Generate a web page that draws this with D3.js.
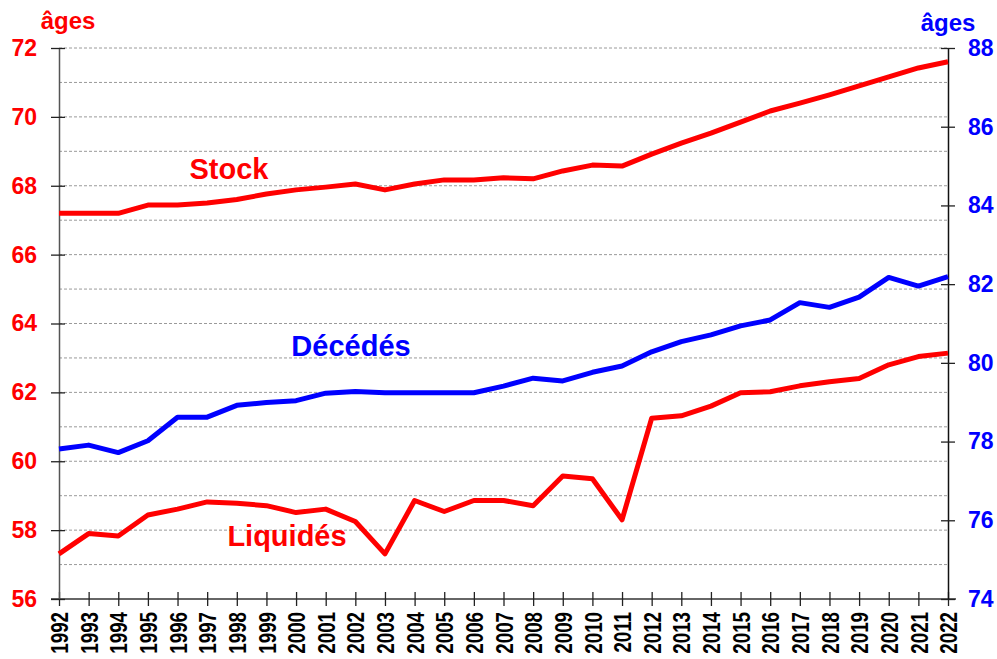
<!DOCTYPE html>
<html>
<head>
<meta charset="utf-8">
<script src="https://cdn.jsdelivr.net/npm/d3@7"></script>
<style>
  body { margin: 0; background: #fff; }
  text { font-family: "Liberation Sans", Arial, sans-serif; font-weight: bold; }
</style>
</head>
<body>
<div id="chart"></div>
<script>
var years = d3.range(1992, 2023);

// ages moyens, axe de gauche
var stock = [67.2, 67.2, 67.2, 67.44, 67.44, 67.5, 67.6, 67.76, 67.88, 67.96, 68.05,
  67.88, 68.05, 68.17, 68.17, 68.23, 68.2, 68.43, 68.6, 68.57, 68.92,
  69.24, 69.53, 69.85, 70.17, 70.4, 70.64, 70.9, 71.16, 71.42, 71.6];
var liquides = [57.31, 57.9, 57.83, 58.44, 58.61, 58.82, 58.78, 58.71, 58.51, 58.61, 58.25,
  57.31, 58.86, 58.54, 58.86, 58.86, 58.71, 59.57, 59.49, 58.3, 61.25,
  61.32, 61.6, 61.99, 62.02, 62.19, 62.31, 62.4, 62.8, 63.04, 63.14];
// axe de droite
var decedes = [77.81, 77.91, 77.72, 78.02, 78.62, 78.62, 78.92, 78.99, 79.04, 79.23, 79.27,
  79.24, 79.24, 79.24, 79.24, 79.41, 79.61, 79.54, 79.76, 79.92, 80.28,
  80.54, 80.71, 80.94, 81.09, 81.53, 81.41, 81.67, 82.17, 81.95, 82.19];

var leftTicks = [56, 58, 60, 62, 64, 66, 68, 70, 72];
var rightTicks = [74, 76, 78, 80, 82, 84, 86, 88];
var gridValues = d3.range(56, 73);

var margin = { top: 48, right: 49, bottom: 60, left: 59 };
var width = 997 - margin.left - margin.right;
var height = 659 - margin.top - margin.bottom;

var svg = d3.select("#chart").append("svg")
    .attr("width", 997)
    .attr("height", 659);

var g = svg.append("g")
    .attr("transform", "translate(" + margin.left + "," + margin.top + ")");

var x = d3.scaleLinear().domain([1992, 2022]).range([0, width]);
var yL = d3.scaleLinear().domain([56, 72]).range([height, 0]);
var yR = d3.scaleLinear().domain([74, 88]).range([height, 0]);

// grille
g.selectAll(".grid").data(gridValues.slice(1)).enter().append("line")
    .attr("x1", 0).attr("x2", width)
    .attr("y1", function (d) { return yL(d); })
    .attr("y2", function (d) { return yL(d); })
    .attr("stroke", "#9a9a9a")
    .attr("stroke-width", 1)
    .attr("stroke-dasharray", "3,2");

// axes
var xAxis = g.append("g")
    .attr("transform", "translate(0," + height + ")")
    .call(d3.axisBottom(x).tickValues(years).tickFormat(d3.format("d")).tickSizeInner(7).tickSizeOuter(0));
xAxis.select(".domain").attr("stroke", "#333").attr("stroke-width", 1.5)
    .attr("d", "M-8,0H" + (width + 8));
xAxis.selectAll(".tick line").attr("stroke", "#222").attr("stroke-width", 1.3)
    .attr("y1", -7).attr("y2", 7);
// libellés des années : verticaux et resserrés
var squeeze = 0.78;
xAxis.selectAll("text")
    .attr("transform", "rotate(-90) scale(" + squeeze + ",1)")
    .attr("x", -13 / squeeze).attr("y", 0)
    .attr("dy", "0.36em")
    .attr("text-anchor", "end")
    .attr("fill", "#000")
    .style("font-size", "24px");

var leftAxis = g.append("g")
    .call(d3.axisLeft(yL).tickValues(leftTicks).tickSizeInner(7).tickSizeOuter(0));
leftAxis.select(".domain").attr("stroke", "#555").attr("stroke-width", 1.5);
leftAxis.selectAll(".tick line").attr("stroke", "#222").attr("stroke-width", 1.3)
    .attr("x1", -8).attr("x2", 6);
leftAxis.selectAll("text").attr("fill", "#ff0000").style("font-size", "23px")
    .attr("x", -22);

var rightAxis = g.append("g")
    .attr("transform", "translate(" + width + ",0)")
    .call(d3.axisRight(yR).tickValues(rightTicks).tickSizeInner(7).tickSizeOuter(0));
rightAxis.select(".domain").attr("stroke", "#111").attr("stroke-width", 1.5);
rightAxis.selectAll(".tick line").attr("stroke", "#222").attr("stroke-width", 1.3)
    .attr("x1", -7).attr("x2", 7);
rightAxis.selectAll("text").attr("fill", "#0000ff").style("font-size", "23px")
    .attr("x", 20);

// courbes
var lineL = d3.line()
    .x(function (d, i) { return x(years[i]); })
    .y(function (d) { return yL(d); });
var lineR = d3.line()
    .x(function (d, i) { return x(years[i]); })
    .y(function (d) { return yR(d); });

g.append("path").datum(decedes)
    .attr("d", lineR).attr("fill", "none")
    .attr("stroke", "#0000ff").attr("stroke-width", 5).attr("stroke-linejoin", "round");
g.append("path").datum(liquides)
    .attr("d", lineL).attr("fill", "none")
    .attr("stroke", "#ff0000").attr("stroke-width", 5).attr("stroke-linejoin", "round");
g.append("path").datum(stock)
    .attr("d", lineL).attr("fill", "none")
    .attr("stroke", "#ff0000").attr("stroke-width", 5).attr("stroke-linejoin", "round");

// étiquettes
svg.append("text").attr("x", 229).attr("y", 179).attr("text-anchor", "middle")
    .attr("fill", "#ff0000").style("font-size", "29px").text("Stock");
svg.append("text").attr("x", 351).attr("y", 356).attr("text-anchor", "middle")
    .attr("fill", "#0000ff").style("font-size", "29px").text("Décédés");
svg.append("text").attr("x", 287).attr("y", 546).attr("text-anchor", "middle")
    .attr("fill", "#ff0000").style("font-size", "29px").text("Liquidés");

svg.append("text").attr("x", 68).attr("y", 29).attr("text-anchor", "middle")
    .attr("fill", "#ff0000").style("font-size", "24px").text("âges");
svg.append("text").attr("x", 948).attr("y", 31).attr("text-anchor", "middle")
    .attr("fill", "#0000ff").style("font-size", "24px").text("âges");
</script>
</body>
</html>
